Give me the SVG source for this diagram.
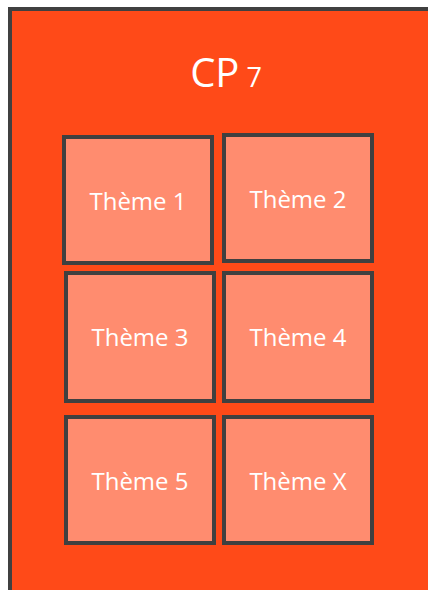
<svg xmlns="http://www.w3.org/2000/svg" width="428" height="590" viewBox="0 0 428 590">
<style>
.box{fill:#FF8C6F;stroke:#404040;stroke-width:4}
.lbl{fill:#FFFFFF;font-family:"Open Sans","Liberation Sans",sans-serif;font-size:24px;text-anchor:middle}
.title{fill:#FFFFFF;font-family:"Open Sans","Liberation Sans",sans-serif}
</style>
<rect width="428" height="590" fill="#FFFFFF"/>
<g id="cp7">
<rect x="10" y="9" width="440" height="600" fill="#FF4A18" stroke="#404040" stroke-width="4"/>
<text class="title" x="226" y="87" text-anchor="middle"><tspan font-size="40">CP</tspan><tspan font-size="27"> 7</tspan></text>
</g>
<g id="theme1"><rect class="box" x="64" y="137" width="148" height="126"/><text class="lbl" x="138" y="210">Thème 1</text></g>
<g id="theme2"><rect class="box" x="224" y="135" width="148" height="126"/><text class="lbl" x="298" y="208">Thème 2</text></g>
<g id="theme3"><rect class="box" x="66" y="273" width="148" height="128"/><text class="lbl" x="140" y="346">Thème 3</text></g>
<g id="theme4"><rect class="box" x="224" y="273" width="148" height="128"/><text class="lbl" x="298" y="346">Thème 4</text></g>
<g id="theme5"><rect class="box" x="66" y="417" width="148" height="126"/><text class="lbl" x="140" y="490">Thème 5</text></g>
<g id="themeX"><rect class="box" x="224" y="417" width="148" height="126"/><text class="lbl" x="298" y="490">Thème X</text></g>
<g id="connectors"/>
</svg>
